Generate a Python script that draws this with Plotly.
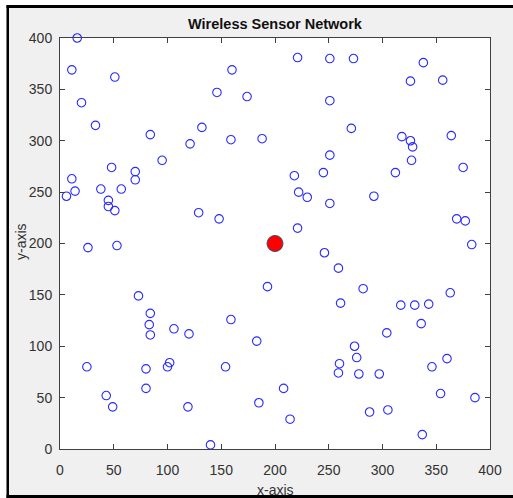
import plotly.graph_objects as go

# Sensor node positions (metres)
sensor_x = [16, 11, 51, 20, 33, 84, 11, 6, 14, 38, 48, 45, 45, 51, 57, 70, 70, 95, 121, 132,
            146, 160, 174, 159, 129, 148, 188, 26, 53,
            221, 251, 273, 338, 326, 356, 251, 271, 318, 326, 328, 364, 327, 251, 218, 245, 312,
            375, 222, 230, 251, 292, 369, 377, 221, 383, 246,
            259, 193, 282, 363, 261, 317, 330, 343, 336, 304, 183, 274, 276, 260, 259, 278, 297,
            360, 346, 208, 185, 214, 288, 305, 354, 386, 337,
            73, 84, 83, 84, 106, 120, 159, 25, 80, 100, 102, 154, 80, 43, 49, 119, 140]
sensor_y = [400, 369, 362, 337, 315, 306, 263, 246, 251, 253, 274, 242, 236, 232, 253, 270, 262, 281, 297, 313,
            347, 369, 343, 301, 230, 224, 302, 196, 198,
            381, 380, 380, 376, 358, 359, 339, 312, 304, 300, 294, 305, 281, 286, 266, 269, 269,
            274, 250, 245, 239, 246, 224, 222, 215, 199, 191,
            176, 158, 156, 152, 142, 140, 140, 141, 122, 113, 105, 100, 89, 83, 74, 73, 73,
            88, 80, 59, 45, 29, 36, 38, 54, 50, 14,
            149, 132, 121, 111, 117, 112, 126, 80, 78, 80, 84, 80, 59, 52, 41, 41, 4]

# Sink / base station
sink_x = [200]
sink_y = [200]

axis_ticks = [0, 50, 100, 150, 200, 250, 300, 350, 400]

W, H = 513, 498
ML, MR, MT, MB = 60, 23, 38, 49
PW, PH = W - ML - MR, H - MT - MB


def px(x):
    return (x - ML) / PW


def py(y):
    return 1 - (y - MT) / PH


FONT = "Liberation Sans, Arial, sans-serif"

fig = go.Figure()
fig.add_trace(go.Scatter(
    x=sensor_x, y=sensor_y, mode="markers", cliponaxis=False,
    marker=dict(symbol="circle-open", size=8.5, color="#2a2aff", line=dict(width=1.1)),
    showlegend=False, hoverinfo="x+y",
))
fig.add_trace(go.Scatter(
    x=sink_x, y=sink_y, mode="markers", cliponaxis=False,
    marker=dict(symbol="circle", size=16, color="#ff0000", line=dict(width=1, color="#3a4f73")),
    showlegend=False, hoverinfo="x+y",
))

axis_common = dict(
    range=[0, 400], tickvals=axis_ticks, ticks="inside", ticklen=5, tickwidth=1,
    tickcolor="#404040", showline=True, linecolor="#404040", linewidth=1, mirror="ticks",
    showgrid=False, zeroline=False, tickfont=dict(family=FONT, size=14, color="#333333"),
)
fig.update_xaxes(**axis_common, ticklabelstandoff=8)
fig.update_yaxes(**axis_common, ticklabelstandoff=4)

# Window frame around the figure
frame_shapes = [
    dict(x0=px(0), x1=px(W), y0=py(0), y1=py(5), fillcolor="white"),
    dict(x0=px(0), x1=px(6.5), y0=py(0), y1=py(H), fillcolor="white"),
    dict(x0=px(6.5), x1=px(W), y0=py(5), y1=py(8), fillcolor="black"),
    dict(x0=px(6.5), x1=px(9), y0=py(5), y1=py(H), fillcolor="black"),
    dict(x0=px(6.5), x1=px(W), y0=py(495), y1=py(H), fillcolor="black"),
]
for s in frame_shapes:
    fig.add_shape(type="rect", xref="paper", yref="paper", line=dict(width=0), layer="above", **s)

fig.add_annotation(text="<b>Wireless Sensor Network</b>", xref="paper", yref="paper",
                   x=0.5, y=py(24), xanchor="center", yanchor="middle", showarrow=False,
                   font=dict(family=FONT, size=14.5, color="#111111"))
fig.add_annotation(text="x-axis", xref="paper", yref="paper",
                   x=0.5, y=py(490), xanchor="center", yanchor="middle", showarrow=False,
                   font=dict(family=FONT, size=14, color="#333333"))
fig.add_annotation(text="y-axis", xref="paper", yref="paper", textangle=-90,
                   x=px(21), y=py(242), xanchor="center", yanchor="middle", showarrow=False,
                   font=dict(family=FONT, size=14, color="#333333"))

fig.update_layout(
    width=W, height=H,
    margin=dict(l=ML, r=MR, t=MT, b=MB),
    paper_bgcolor="#f0f0f0", plot_bgcolor="white",
)

fig.write_html("out.html")
